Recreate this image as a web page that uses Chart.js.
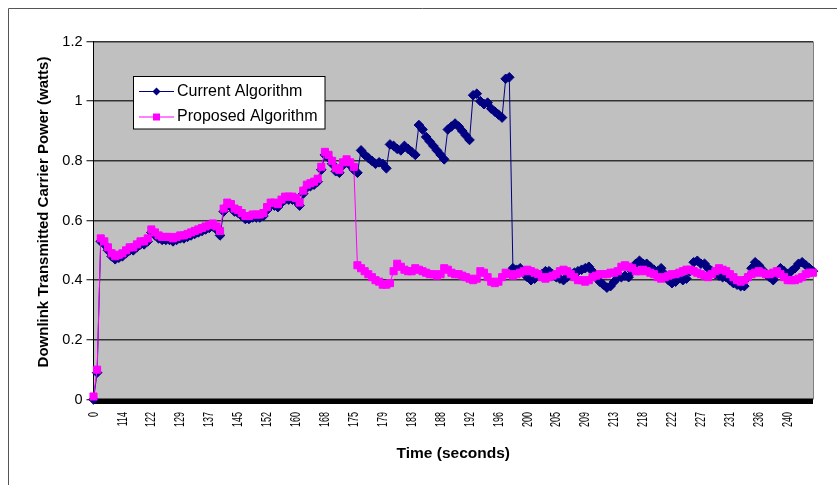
<!DOCTYPE html>
<html>
<head>
<meta charset="utf-8">
<script src="https://cdn.jsdelivr.net/npm/chart.js@4/dist/chart.umd.min.js"></script>
<style>
  body { margin: 0; background: #fff; }
  canvas { display: block; }
</style>
</head>
<body>
<canvas id="chart" width="837" height="485"></canvas>
<script>
// tick labels shown on the time axis, one every TICK_EVERY samples
const tickLabels = ["0", "114", "122", "129", "137", "145", "152", "160", "168", "175", "179", "183",
    "188", "192", "196", "200", "205", "209", "213", "218", "222", "227", "231", "236", "240"];
const TICK_EVERY = 8;

const currentAlgorithm = [
    0.00, 0.09, 0.53, 0.52, 0.50, 0.48, 0.47, 0.475, 0.48, 0.49,
    0.50, 0.50, 0.51, 0.52, 0.52, 0.53, 0.56, 0.55, 0.54, 0.535,
    0.535, 0.535, 0.53, 0.535, 0.54, 0.54, 0.545, 0.55, 0.555, 0.56,
    0.565, 0.57, 0.575, 0.58, 0.57, 0.55, 0.63, 0.65, 0.645, 0.63,
    0.625, 0.615, 0.605, 0.605, 0.61, 0.61, 0.61, 0.615, 0.635, 0.65,
    0.65, 0.645, 0.66, 0.67, 0.67, 0.67, 0.665, 0.65, 0.69, 0.71,
    0.715, 0.72, 0.73, 0.77, 0.82, 0.81, 0.79, 0.765, 0.76, 0.785,
    0.795, 0.785, 0.77, 0.76, 0.835, 0.82, 0.81, 0.80, 0.79, 0.795,
    0.79, 0.775, 0.855, 0.85, 0.84, 0.835, 0.85, 0.84, 0.83, 0.82,
    0.92, 0.905, 0.88, 0.865, 0.85, 0.835, 0.82, 0.805, 0.905, 0.915,
    0.925, 0.915, 0.90, 0.885, 0.87, 1.02, 1.025, 1.00, 0.99, 0.995,
    0.975, 0.965, 0.955, 0.945, 1.075, 1.08, 0.44, 0.435, 0.44, 0.425,
    0.41, 0.40, 0.405, 0.415, 0.42, 0.43, 0.43, 0.42, 0.41, 0.405,
    0.40, 0.41, 0.42, 0.425, 0.43, 0.435, 0.44, 0.445, 0.43, 0.41,
    0.395, 0.385, 0.375, 0.38, 0.395, 0.41, 0.41, 0.415, 0.41, 0.43,
    0.455, 0.465, 0.455, 0.455, 0.445, 0.435, 0.43, 0.44, 0.42, 0.40,
    0.39, 0.395, 0.41, 0.40, 0.405, 0.43, 0.46, 0.465, 0.455, 0.455,
    0.44, 0.43, 0.42, 0.415, 0.41, 0.41, 0.40, 0.39, 0.385, 0.38,
    0.38, 0.41, 0.44, 0.46, 0.45, 0.435, 0.42, 0.41, 0.40, 0.42,
    0.44, 0.43, 0.42, 0.43, 0.44, 0.455, 0.46, 0.45, 0.44, 0.43
];

const proposedAlgorithm = [
    0.01, 0.10, 0.54, 0.53, 0.51, 0.49, 0.48, 0.485, 0.49, 0.50,
    0.51, 0.51, 0.52, 0.53, 0.53, 0.54, 0.57, 0.56, 0.55, 0.545,
    0.545, 0.545, 0.54, 0.545, 0.55, 0.55, 0.555, 0.56, 0.565, 0.57,
    0.575, 0.58, 0.585, 0.59, 0.58, 0.565, 0.64, 0.66, 0.655, 0.64,
    0.635, 0.625, 0.615, 0.615, 0.62, 0.62, 0.62, 0.625, 0.645, 0.66,
    0.66, 0.655, 0.67, 0.68, 0.68, 0.68, 0.675, 0.66, 0.70, 0.72,
    0.725, 0.73, 0.74, 0.78, 0.83, 0.82, 0.80, 0.775, 0.77, 0.795,
    0.805, 0.795, 0.78, 0.45, 0.44, 0.43, 0.42, 0.41, 0.40, 0.395,
    0.385, 0.385, 0.39, 0.43, 0.455, 0.445, 0.435, 0.43, 0.43, 0.44,
    0.435, 0.43, 0.425, 0.42, 0.42, 0.415, 0.42, 0.44, 0.435, 0.425,
    0.42, 0.42, 0.415, 0.41, 0.405, 0.40, 0.405, 0.43, 0.425, 0.41,
    0.395, 0.39, 0.395, 0.41, 0.425, 0.42, 0.415, 0.42, 0.425, 0.43,
    0.435, 0.43, 0.425, 0.42, 0.41, 0.405, 0.41, 0.415, 0.42, 0.43,
    0.435, 0.43, 0.42, 0.41, 0.40, 0.40, 0.395, 0.40, 0.41, 0.415,
    0.42, 0.42, 0.42, 0.425, 0.425, 0.43, 0.445, 0.45, 0.445, 0.44,
    0.43, 0.43, 0.435, 0.43, 0.425, 0.42, 0.41, 0.405, 0.41, 0.415,
    0.42, 0.42, 0.425, 0.43, 0.435, 0.435, 0.43, 0.425, 0.42, 0.415,
    0.41, 0.42, 0.43, 0.44, 0.435, 0.43, 0.42, 0.41, 0.40, 0.395,
    0.40, 0.41, 0.42, 0.425, 0.43, 0.425, 0.42, 0.42, 0.425, 0.43,
    0.42, 0.41, 0.40, 0.40, 0.40, 0.405, 0.41, 0.42, 0.425, 0.425
];

const seriesNames = ["Current Algorithm", "Proposed Algorithm"];
const yTitle = "Downlink Transmitted Carrier Power (watts)";
const xTitle = "Time (seconds)";

// category labels: a time label every TICK_EVERY samples, blank in between
const timeLabels = currentAlgorithm.map((v, i) =>
    i % TICK_EVERY === 0 && tickLabels[i / TICK_EVERY] !== undefined ? tickLabels[i / TICK_EVERY] : "");

const NAVY = "#000080";
const MAGENTA = "#ff00ff";
const FONT = "'Liberation Sans', Arial, sans-serif";

const excelLook = {
    id: "excelLook",
    beforeDraw(chart) {
        const { ctx, chartArea: a } = chart;
        ctx.save();
        ctx.fillStyle = "#c0c0c0";
        ctx.fillRect(a.left, a.top, a.right - a.left, a.bottom - a.top);
        // outer chart frame
        ctx.strokeStyle = "#555";
        ctx.lineWidth = 1;
        ctx.beginPath();
        ctx.moveTo(8.5, 485);
        ctx.lineTo(8.5, 8.5);
        ctx.lineTo(837, 8.5);
        ctx.stroke();
        ctx.restore();
    },
    beforeDatasetsDraw(chart) {
        const { ctx, chartArea: a } = chart;
        ctx.save();
        ctx.strokeStyle = "#808080";
        ctx.lineWidth = 1;
        ctx.beginPath();
        ctx.moveTo(a.right + 0.5, a.top);
        ctx.lineTo(a.right + 0.5, a.bottom);
        ctx.stroke();
        ctx.fillStyle = "#000";
        ctx.fillRect(a.left, a.bottom - 1, a.right - a.left, 5.5);
        ctx.restore();
    },
    afterDraw(chart) {
        const { ctx, chartArea: a } = chart;
        const xs = chart.scales.x;
        ctx.save();
        // rotated, condensed time labels
        ctx.fillStyle = "#000";
        ctx.font = "15px " + FONT;
        ctx.textAlign = "right";
        ctx.textBaseline = "middle";
        tickLabels.forEach((t, k) => {
            const px = xs.getPixelForValue(k * TICK_EVERY);
            ctx.save();
            ctx.translate(px, a.bottom + 12.5);
            ctx.rotate(-Math.PI / 2);
            ctx.scale(0.6, 1);
            ctx.fillText(t, 0, 0);
            ctx.restore();
        });

        // y axis title
        ctx.save();
        ctx.font = "bold 15px " + FONT;
        ctx.textAlign = "center";
        ctx.textBaseline = "middle";
        ctx.translate(43.5, 212);
        ctx.rotate(-Math.PI / 2);
        ctx.fillText(yTitle, 0, 0);
        ctx.restore();

        // legend box inside the plot
        ctx.fillStyle = "#fff";
        ctx.fillRect(133.5, 76.5, 191.5, 52.5);
        ctx.strokeStyle = "#000";
        ctx.lineWidth = 1;
        ctx.strokeRect(133.5, 76.5, 191.5, 52.5);
        const rows = [
            { y: 91.5, color: NAVY, marker: "diamond" },
            { y: 117, color: MAGENTA, marker: "square" }
        ];
        rows.forEach((r, i) => {
            ctx.strokeStyle = r.color;
            ctx.fillStyle = r.color;
            ctx.beginPath();
            ctx.moveTo(139, r.y);
            ctx.lineTo(174, r.y);
            ctx.stroke();
            ctx.beginPath();
            if (r.marker === "diamond") {
                ctx.moveTo(156.5, r.y - 4);
                ctx.lineTo(160.5, r.y);
                ctx.lineTo(156.5, r.y + 4);
                ctx.lineTo(152.5, r.y);
                ctx.closePath();
                ctx.fill();
            } else {
                ctx.fillRect(153, r.y - 3.5, 7, 7);
            }
            ctx.fillStyle = "#000";
            ctx.font = "16px " + FONT;
            ctx.textAlign = "left";
            ctx.textBaseline = "middle";
            ctx.fillText(seriesNames[i], 177, r.y);
        });
        ctx.restore();
    }
};

new Chart(document.getElementById("chart"), {
    type: "line",
    data: {
        labels: timeLabels,
        datasets: [
            {
                label: seriesNames[0],
                data: currentAlgorithm,
                borderColor: NAVY,
                backgroundColor: NAVY,
                borderWidth: 1,
                pointStyle: "rectRot",
                radius: 4.8,
                pointBorderWidth: 1,
                pointBorderColor: NAVY,
                pointBackgroundColor: NAVY,
                tension: 0,
                clip: false,
                order: 2
            },
            {
                label: seriesNames[1],
                data: proposedAlgorithm,
                borderColor: MAGENTA,
                backgroundColor: MAGENTA,
                borderWidth: 1,
                pointStyle: "rect",
                radius: 5,
                pointBorderWidth: 1,
                pointBorderColor: MAGENTA,
                pointBackgroundColor: MAGENTA,
                tension: 0,
                clip: false,
                order: 1
            }
        ]
    },
    options: {
        responsive: false,
        animation: false,
        devicePixelRatio: 1,
        events: [],
        layout: {
            padding: { left: 0, right: 24, top: 41.5, bottom: 0 }
        },
        scales: {
            x: {
                type: "category",
                offset: false,
                grid: { display: false },
                border: { display: false },
                ticks: { display: false },
                title: {
                    display: true,
                    text: xTitle,
                    color: "#000",
                    font: { family: FONT, size: 15.5, weight: "bold" },
                    padding: { top: 0, bottom: 22 }
                },
                afterFit: (scale) => { scale.height = 85.5; }
            },
            y: {
                min: 0,
                max: 1.2,
                ticks: {
                    stepSize: 0.2,
                    color: "#000",
                    padding: 4,
                    font: { family: FONT, size: 14.5 },
                    callback: (value) => String(Math.round(value * 10) / 10)
                },
                grid: {
                    color: "#333",
                    lineWidth: 1.5,
                    tickLength: 7,
                    tickColor: "#000",
                    tickWidth: 1
                },
                border: { display: true, color: "#000", width: 1 },
                afterFit: (scale) => { scale.width = 93.5; }
            }
        },
        plugins: {
            legend: { display: false },
            tooltip: { enabled: false },
            title: { display: false }
        }
    },
    plugins: [excelLook]
});
</script>
</body>
</html>
